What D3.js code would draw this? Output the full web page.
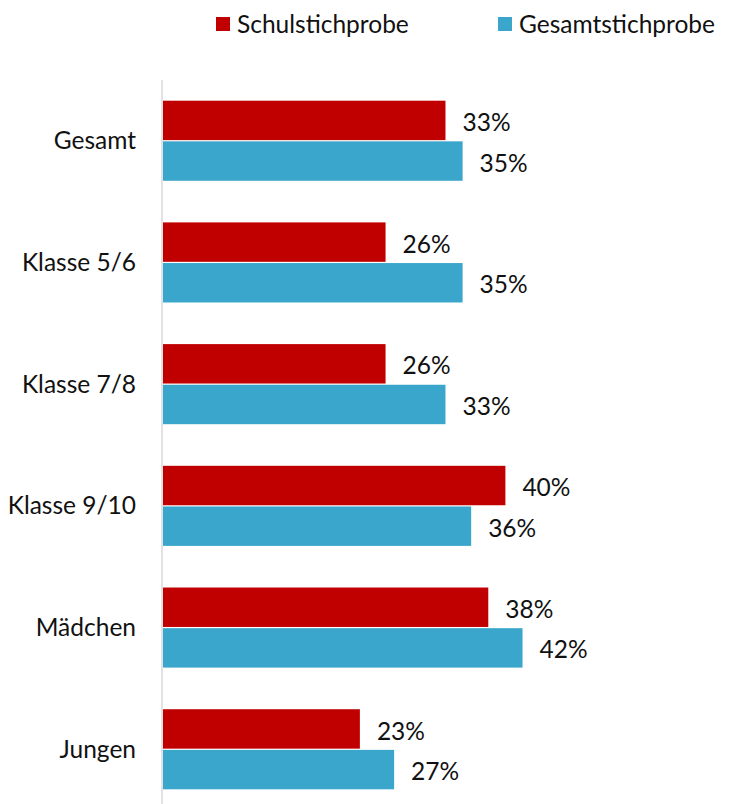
<!DOCTYPE html>
<html lang="de">
  <head>
    <meta charset="utf-8">
    <title>Schulstichprobe vs Gesamtstichprobe</title>
    <style type="text/css">
      body{
        margin: 0;
        background: #fff;
      }
      svg text{
        font-family: "Source Sans Pro", Lato, "Noto Sans", sans-serif;
        fill: #111;
      }
    </style>
    <script src="https://cdn.jsdelivr.net/npm/d3@7"></script>
  </head>
  <body>
    <div id="chart"></div>
    <script type="text/javascript">
      //categories, top to bottom
      var categories = ["Gesamt", "Klasse 5/6", "Klasse 7/8", "Klasse 9/10", "Mädchen", "Jungen"];

      //series names and values (percent)
      var seriesNames = ["Schulstichprobe", "Gesamtstichprobe"];
      var schulValues = [33, 26, 26, 40, 38, 23];
      var gesamtValues = [35, 35, 33, 36, 42, 27];

      var colors = ["#c00000", "#3aa6cb"];

      var width = 733;
      var height = 804;

      var svg = d3.select("#chart")
        .append("svg")
        .attr("width", width)
        .attr("height", height);

      //table built from the arrays above
      var rows = categories.map(function(c, i){
        return {cat: c, values: [schulValues[i], gesamtValues[i]]};
      });

      //scaler for the bar lengths
      var x = d3.scaleLinear()
        .domain([0, 50])
        .range([163, 591]);

      //scaler for the category groups
      var y = d3.scaleBand()
        .domain(categories)
        .range([80, 810])
        .paddingInner(0.342)
        .paddingOuter(0.17);

      //scaler for the bars inside a group
      var ySub = d3.scaleBand()
        .domain([0, 1])
        .range([0, y.bandwidth()])
        .paddingInner(0.03);

      //groups
      var groups = svg.selectAll(".group")
        .data(rows)
        .enter()
        .append("g")
        .attr("class", "group")
        .attr("transform", d => "translate(0," + y(d.cat) + ")");

      groups.selectAll("rect")
        .data(d => d.values)
        .enter()
        .append("rect")
        .attr("x", x(0))
        .attr("y", (d, i) => ySub(i))
        .attr("width", d => x(d) - x(0))
        .attr("height", ySub.bandwidth())
        .attr("fill", (d, i) => colors[i]);

      //value labels
      groups.selectAll(".labels")
        .data(d => d.values)
        .enter()
        .append("text")
        .attr("class", "labels")
        .attr("x", d => x(d) + 17)
        .attr("y", (d, i) => ySub(i) + ySub.bandwidth() / 2 + 2)
        .attr("dy", "0.35em")
        .style("font-size", "24.5px")
        .text(d => d + "%");

      //category axis line
      svg.append("line")
        .attr("x1", 162)
        .attr("x2", 162)
        .attr("y1", 80)
        .attr("y2", height)
        .attr("stroke", "#d9d9d9")
        .attr("stroke-width", 1.5);

      //category labels
      svg.selectAll(".cat")
        .data(categories)
        .enter()
        .append("text")
        .attr("class", "cat")
        .attr("x", 136)
        .attr("y", d => y(d) + y.bandwidth() / 2)
        .attr("dy", "0.35em")
        .attr("text-anchor", "end")
        .style("font-size", "24.5px")
        .text(d => d);

      //legend
      var legendX = [216, 498];
      var legend = svg.selectAll(".legend")
        .data(seriesNames)
        .enter()
        .append("g")
        .attr("class", "legend")
        .attr("transform", (d, i) => "translate(" + legendX[i] + ",17)");

      legend.append("rect")
        .attr("width", 14)
        .attr("height", 14)
        .attr("fill", (d, i) => colors[i]);

      legend.append("text")
        .attr("x", 21)
        .attr("y", 7)
        .attr("dy", "0.35em")
        .style("font-size", "24.5px")
        .text(d => d);
    </script>
  </body>
</html>
